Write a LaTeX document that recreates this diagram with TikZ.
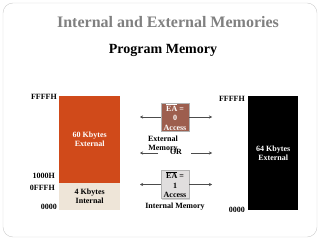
\documentclass[tikz,border=0pt]{standalone}
\usepackage{fontspec}
\setmainfont{Liberation Serif}
\usepackage{tikz}
\usetikzlibrary{arrows.meta,shadows}
\definecolor{extred}{RGB}{208,74,26}
\definecolor{intbeige}{RGB}{238,229,216}
\definecolor{eabrown}{RGB}{157,94,78}
\definecolor{eagrey}{RGB}{224,222,222}
\definecolor{titlegrey}{RGB}{128,128,128}

\begin{document}
\begin{tikzpicture}[x=1pt,y=-1pt,>={Stealth[length=3pt,width=3pt]},
     font=\bfseries\fontsize{8}{9}\selectfont,
     mb/.style={anchor=north west,align=center,inner sep=0pt,minimum width=61pt},
     eab/.style={draw=gray!60,minimum width=28pt,minimum height=28pt,inner sep=0pt,align=center,font=\bfseries\fontsize{8}{9.5}\selectfont},
     addr/.style={anchor=east,inner sep=1pt},
     ar/.style={->,thin,gray!60!black}]
    \useasboundingbox (0,0) rectangle (320,240);
    \draw[gray!40,rounded corners=10pt] (3,3) rectangle (317,237);
    \node[titlegrey,font=\bfseries\fontsize{16}{18}\selectfont] (title) at (168,22) {Internal and External Memories};
    \node[font=\bfseries\fontsize{14}{16}\selectfont] (sub) at (163,50) {Program Memory};
    % left memory map
    \node[mb,fill=extred,text=white,minimum height=87pt] (ext) at (59,96) {60 Kbytes\\External};
    \node[mb,fill=intbeige,minimum height=27pt] (int) at (59,183) {4 Kbytes\\Internal};
    \node[addr] (ltop) at (58,97) {FFFFH};
    \node[addr] (l1000) at (56,176) {1000H};
    \node[addr] (l0fff) at (56,188) {0FFFH};
    \node[addr] (lbot) at (58,207) {0000};
    % right memory map
    \node[mb,fill=black,text=white,minimum width=50pt,minimum height=114pt] (ext64) at (248,96) {64 Kbytes\\External};
    \node[addr] (rtop) at (246,99) {FFFFH};
    \node[addr] (rbot) at (246,210) {0000};
    % EA selection
    \node[eab,fill=eabrown,text=white] (ea0) at (175,117) {$\overline{\mbox{EA}}$ =\\0\\Access};
    \node[eab,fill=eagrey,drop shadow={shadow xshift=1pt,shadow yshift=-1pt,fill=gray!70}] (ea1) at (175,184.5) {$\overline{\mbox{EA}}$ =\\1\\Access};
    \node[align=center] (extmem) at (163,144) {External\\Memory};
    \node (or) at (176,152) {OR};
    \node (intmem) at (175,207) {Internal Memory};
    \coordinate (a0l) at (140,117);
    \coordinate (a0r) at (212,117);
    \coordinate (m0) at (158,153);
    \coordinate (a1l) at (140,153);
    \coordinate (m1) at (191,153);
    \coordinate (a1r) at (212,153);
    \coordinate (a2l) at (140,184.5);
    \coordinate (a2r) at (212,184.5);
    \draw[ar] (ea0.west) -- (a0l);
    \draw[ar] (ea0.east) -- (a0r);
    \draw[ar] (m0) -- (a1l);
    \draw[ar] (m1) -- (a1r);
    \draw[ar] (ea1.west) -- (a2l);
    \draw[ar] (ea1.east) -- (a2r);
  \end{tikzpicture}
\end{document}
